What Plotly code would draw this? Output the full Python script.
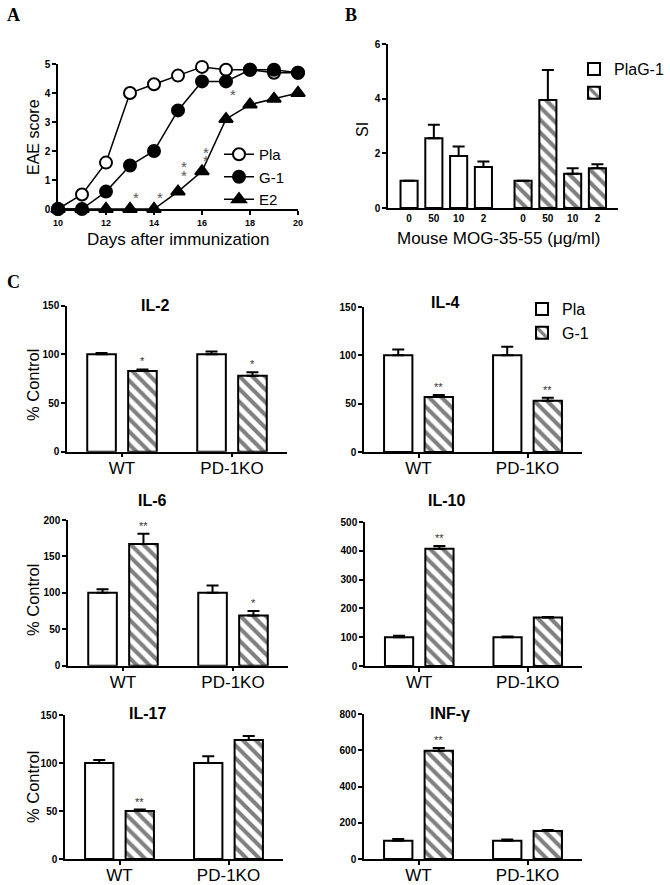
import plotly.graph_objects as go

W, H = 670, 885

# ---------------- Data ----------------
# Panel A: EAE score
days = [10, 11, 12, 13, 14, 15, 16, 17, 18, 19, 20]
eae_pla = [0, 0.5, 1.6, 4.0, 4.3, 4.6, 4.9, 4.8, 4.8, 4.7, 4.7]
eae_g1 = [0, 0, 0.6, 1.5, 2.0, 3.4, 4.4, 4.4, 4.8, 4.8, 4.7]
eae_e2 = [0, 0, 0, 0, 0, 0.6, 1.3, 3.1, 3.6, 3.8, 4.0]
astA_x = [13.25, 14.25, 15.25, 15.25, 16.17, 16.17, 17.3]
astA_y = [0.55, 0.55, 1.28, 1.59, 1.8, 2.1, 4.07]

# Panel B: SI
conc = ["0", "50", "10", "2"]
si_pla = [1.0, 2.55, 1.9, 1.5]
si_pla_err = [0, 0.5, 0.35, 0.2]
si_g1 = [1.0, 3.95, 1.25, 1.45]
si_g1_err = [0, 1.1, 0.2, 0.15]

# Panel C: cytokines (% control)
groups = ["WT", "PD-1KO"]
cyto_names = ["IL-2", "IL-4", "IL-6", "IL-10", "IL-17", "INF-γ"]
cyto_pla = {"IL-2": [100, 100], "IL-4": [100, 100], "IL-6": [100, 100],
            "IL-10": [100, 100], "IL-17": [100, 100], "INF-γ": [100, 100]}
cyto_pla_err = {"IL-2": [1.5, 3], "IL-4": [6, 9], "IL-6": [5, 10],
                "IL-10": [5, 2], "IL-17": [3, 7], "INF-γ": [10, 8]}
cyto_g1 = {"IL-2": [83, 78], "IL-4": [57, 53], "IL-6": [167, 69],
           "IL-10": [407, 168], "IL-17": [50, 124], "INF-γ": [597, 155]}
cyto_g1_err = {"IL-2": [1.5, 3.5], "IL-4": [2, 3], "IL-6": [14, 6],
               "IL-10": [10, 2], "IL-17": [1.5, 4], "INF-γ": [15, 5]}
cyto_sig = {"IL-2": ["*", "*"], "IL-4": ["**", "**"], "IL-6": ["**", "*"],
            "IL-10": ["**", ""], "IL-17": ["**", ""], "INF-γ": ["**", ""]}
cyto_ymax = {"IL-2": 150, "IL-4": 150, "IL-6": 200, "IL-10": 500,
             "IL-17": 150, "INF-γ": 800}
cyto_dtick = {"IL-2": 50, "IL-4": 50, "IL-6": 50, "IL-10": 100,
              "IL-17": 50, "INF-γ": 200}

# ---------------- Layout geometry (pixels) ----------------
def xd(a, b):
    return [a / W, b / W]

def yd(top, bottom):
    return [1 - bottom / H, 1 - top / H]

def px(x):
    return x / W

def py(y):
    return 1 - y / H

# pixel boxes for C panels: (left, right, top, bottom)
cbox = {"IL-2": (67, 287, 305.7, 451.7), "IL-4": (364, 582, 307, 452),
        "IL-6": (68, 288, 520, 665.7), "IL-10": (365, 582, 522, 666),
        "IL-17": (65, 283, 715, 859), "INF-γ": (364, 582, 714, 859)}
ctitle = {"IL-2": (155, 305), "IL-4": (445, 303), "IL-6": (152, 500),
          "IL-10": (447, 500), "IL-17": (147, 713), "INF-γ": (450, 713)}

FONT = "Liberation Sans, Arial, sans-serif"
SERIF = "Liberation Serif, Times New Roman, serif"
tickfont = dict(family=FONT, size=10, color="black", weight="bold")

def axis_common(**kw):
    d = dict(showline=True, linecolor="black", linewidth=1.5, ticks="outside",
             ticklen=4, tickwidth=1.5, tickcolor="black", showgrid=False,
             zeroline=False, tickfont=tickfont, fixedrange=True, automargin=False)
    d.update(kw)
    return d

def note(x, y, text, size, **kw):
    d = dict(x=px(x), y=py(y), xref="paper", yref="paper", text=text, showarrow=False,
             xanchor="center", yanchor="middle",
             font=dict(family=FONT, size=size, color="black"))
    d.update(kw)
    return d

fig = go.Figure()
layout = {}
annotations = []

# ---------------- Panel A ----------------
for name, ys, sym, col in [("Pla", eae_pla, "circle", "white"),
                           ("G-1", eae_g1, "circle", "black"),
                           ("E2", eae_e2, "triangle-up", "black")]:
    fig.add_trace(go.Scatter(
        x=days, y=ys, mode="lines+markers", name=name,
        marker=dict(symbol=sym, size=12, color=col, line=dict(color="black", width=2)),
        line=dict(color="black", width=1.5), xaxis="x", yaxis="y",
        legend="legend", cliponaxis=False))
layout["xaxis"] = axis_common(domain=xd(58, 298), range=[10, 20], tickvals=list(range(10, 21, 2)),
                              anchor="y", tickfont=dict(family=FONT, size=9, color="black", weight="bold"))
layout["yaxis"] = axis_common(domain=yd(64, 209), range=[0, 5], dtick=1, anchor="x")
for x, y in zip(astA_x, astA_y):
    annotations.append(dict(x=x, y=y, xref="x", yref="y", text="*", showarrow=False,
                            xanchor="center", yanchor="middle",
                            font=dict(family=FONT, size=15, color="#555"), yshift=-4))
annotations.append(note(178, 239, "Days after immunization", 17))
annotations.append(note(33, 137, "EAE score", 16, textangle=-90))

# ---------------- Panel B ----------------
pattern = dict(shape="\\", size=9, solidity=0.45, fgcolor="black", bgcolor="white")
b_off = 4.6
fig.add_trace(go.Bar(
    x=[i for i in range(len(conc))], y=si_pla, width=0.69, name="PlaG-1",
    marker=dict(color="white", line=dict(color="black", width=2)),
    error_y=dict(type="data", array=si_pla_err, arrayminus=[0] * len(conc), symmetric=False,
                 color="black", thickness=2, width=6),
    xaxis="x2", yaxis="y2", legend="legend2"))
fig.add_trace(go.Bar(
    x=[i + b_off for i in range(len(conc))], y=si_g1, width=0.69, name=" ",
    marker=dict(color="white", line=dict(color="black", width=2), pattern=pattern),
    error_y=dict(type="data", array=si_g1_err, arrayminus=[0] * len(conc), symmetric=False,
                 color="black", thickness=2, width=6),
    xaxis="x2", yaxis="y2", legend="legend2"))
layout["xaxis2"] = axis_common(domain=xd(388, 618), range=[-0.85, 8.43], anchor="y2", ticks="",
                               tickvals=[i for i in range(len(conc))] + [i + b_off for i in range(len(conc))],
                               ticktext=conc + conc)
layout["yaxis2"] = axis_common(domain=yd(44, 208), range=[0, 6], dtick=2, anchor="x2")
annotations.append(note(498, 238, "Mouse MOG-35-55 (μg/ml)", 17))
annotations.append(note(363, 130, "SI", 16, textangle=-90))

# ---------------- Panel C ----------------
off, bw = 0.186, 0.26
for k, cname in enumerate(cyto_names):
    n = k + 3
    xa, ya = f"x{n}", f"y{n}"
    l, r, t, b = cbox[cname]
    show_leg = cname == "IL-4"
    fig.add_trace(go.Bar(
        x=[i - off for i in range(len(groups))], y=cyto_pla[cname], width=bw, name="Pla",
        marker=dict(color="white", line=dict(color="black", width=2)),
        error_y=dict(type="data", array=cyto_pla_err[cname], arrayminus=[0, 0], symmetric=False,
                     color="black", thickness=2, width=6),
        xaxis=xa, yaxis=ya, legend="legend3", showlegend=show_leg))
    fig.add_trace(go.Bar(
        x=[i + off for i in range(len(groups))], y=cyto_g1[cname], width=bw, name="G-1",
        marker=dict(color="white", line=dict(color="black", width=2), pattern=pattern),
        error_y=dict(type="data", array=cyto_g1_err[cname], arrayminus=[0, 0], symmetric=False,
                     color="black", thickness=2, width=6),
        xaxis=xa, yaxis=ya, legend="legend3", showlegend=show_leg))
    layout[f"xaxis{n}"] = axis_common(domain=xd(l, r), range=[-0.5, 1.5], anchor=ya,
                                      tickvals=list(range(len(groups))), ticktext=groups,
                                      ticklabelstandoff=-4,
                                      tickfont=dict(family=FONT, size=17, color="black"))
    layout[f"yaxis{n}"] = axis_common(domain=yd(t, b), range=[0, cyto_ymax[cname]],
                                      dtick=cyto_dtick[cname], anchor=xa)
    for i, s in enumerate(cyto_sig[cname]):
        if s:
            annotations.append(dict(x=i + off, y=cyto_g1[cname][i] + cyto_g1_err[cname][i],
                                    xref=xa, yref=ya, text=s, showarrow=False,
                                    xanchor="center", yanchor="bottom",
                                    font=dict(family=FONT, size=11, color="#333")))
    tx, ty = ctitle[cname]
    annotations.append(note(tx, ty, cname, 16, font=dict(family=FONT, size=16, color="black", weight="bold")))

for yc in [385, 600, 787]:
    annotations.append(note(33, yc, "% Control", 16.5, textangle=-90))

# Panel letters
for letter, x, y in [("A", 13, 15), ("B", 351, 15), ("C", 13, 282)]:
    annotations.append(note(x, y, letter, 18, font=dict(family=SERIF, size=18, color="black", weight="bold")))

layout["legend"] = dict(x=px(219), y=py(138), xanchor="left", yanchor="top",
                        font=dict(family=FONT, size=15, color="black"), bgcolor="rgba(0,0,0,0)",
                        itemwidth=30, tracegroupgap=0)
layout["legend2"] = dict(x=px(574), y=py(52), xanchor="left", yanchor="top",
                         font=dict(family=FONT, size=16, color="black"), bgcolor="rgba(0,0,0,0)",
                         itemwidth=30)
layout["legend3"] = dict(x=px(522), y=py(292), xanchor="left", yanchor="top",
                         font=dict(family=FONT, size=16, color="black"), bgcolor="rgba(0,0,0,0)",
                         itemwidth=30)

fig.update_layout(**layout)
fig.update_layout(width=W, height=H, margin=dict(l=0, r=0, t=0, b=0, autoexpand=False),
                  paper_bgcolor="white", plot_bgcolor="white", barmode="overlay",
                  annotations=annotations, showlegend=True)

fig.write_html("out.html", config={"displayModeBar": False},
               post_script="document.body.style.margin='0px';document.body.style.overflow='hidden';")
